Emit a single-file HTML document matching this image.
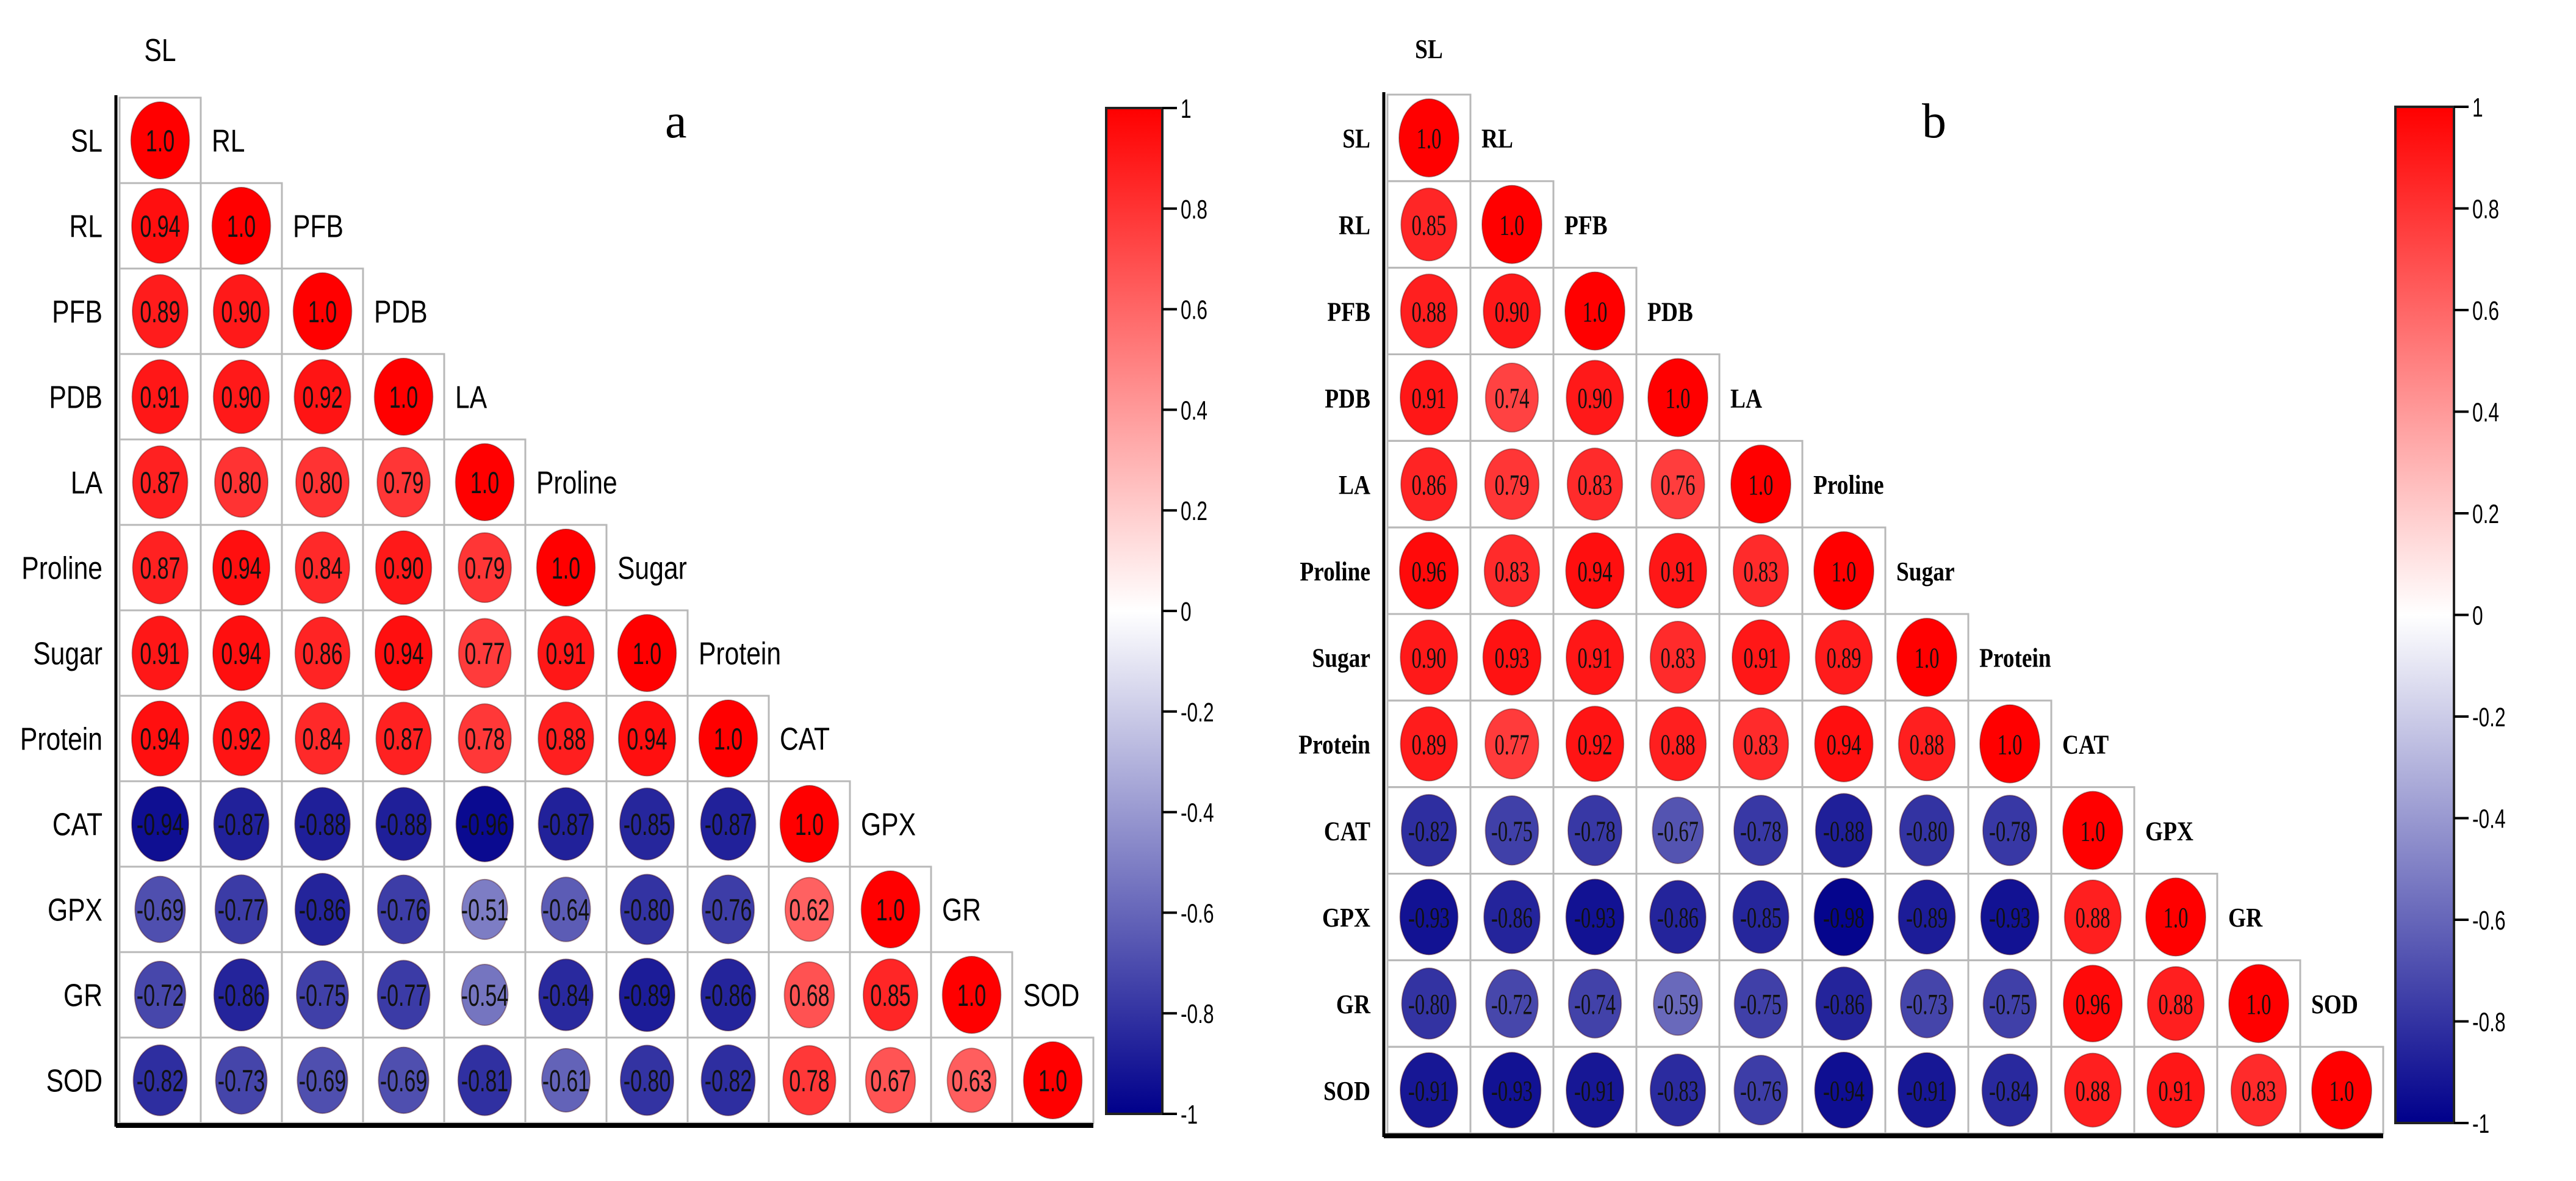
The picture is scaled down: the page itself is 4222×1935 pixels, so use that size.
<!DOCTYPE html>
<html><head><meta charset="utf-8"><style>
html,body{margin:0;padding:0;background:#fff}
svg{display:block}
</style></head><body>
<svg id="svg" width="4222" height="1935" viewBox="0 0 4222 1935" xmlns="http://www.w3.org/2000/svg"></svg>
<script>
const vars = ["SL","RL","PFB","PDB","LA","Proline","Sugar","Protein","CAT","GPX","GR","SOD"];
const corrA = [
[1.0],
[0.94,1.0],
[0.89,0.90,1.0],
[0.91,0.90,0.92,1.0],
[0.87,0.80,0.80,0.79,1.0],
[0.87,0.94,0.84,0.90,0.79,1.0],
[0.91,0.94,0.86,0.94,0.77,0.91,1.0],
[0.94,0.92,0.84,0.87,0.78,0.88,0.94,1.0],
[-0.94,-0.87,-0.88,-0.88,-0.96,-0.87,-0.85,-0.87,1.0],
[-0.69,-0.77,-0.86,-0.76,-0.51,-0.64,-0.80,-0.76,0.62,1.0],
[-0.72,-0.86,-0.75,-0.77,-0.54,-0.84,-0.89,-0.86,0.68,0.85,1.0],
[-0.82,-0.73,-0.69,-0.69,-0.81,-0.61,-0.80,-0.82,0.78,0.67,0.63,1.0]];
const corrB = [
[1.0],
[0.85,1.0],
[0.88,0.90,1.0],
[0.91,0.74,0.90,1.0],
[0.86,0.79,0.83,0.76,1.0],
[0.96,0.83,0.94,0.91,0.83,1.0],
[0.90,0.93,0.91,0.83,0.91,0.89,1.0],
[0.89,0.77,0.92,0.88,0.83,0.94,0.88,1.0],
[-0.82,-0.75,-0.78,-0.67,-0.78,-0.88,-0.80,-0.78,1.0],
[-0.93,-0.86,-0.93,-0.86,-0.85,-0.98,-0.89,-0.93,0.88,1.0],
[-0.80,-0.72,-0.74,-0.59,-0.75,-0.86,-0.73,-0.75,0.96,0.88,1.0],
[-0.91,-0.93,-0.91,-0.83,-0.76,-0.94,-0.91,-0.84,0.88,0.91,0.83,1.0]];
const cbTicks = [1,0.8,0.6,0.4,0.2,0,-0.2,-0.4,-0.6,-0.8,-1];

const NS="http://www.w3.org/2000/svg";
const svg=document.getElementById('svg');
function mk(tag,attrs,parent){const e=document.createElementNS(NS,tag);for(const k in attrs)e.setAttribute(k,attrs[k]);(parent||svg).appendChild(e);return e;}
function color(r){
  if(r>=0){const t=r;return `rgb(255,${Math.round(255*(1-t))},${Math.round(255*(1-t))})`;}
  const t=-r;return `rgb(${Math.round(255*(1-t))},${Math.round(255*(1-t))},${Math.round(255-(255-139)*t)})`;
}
function fmt(v){return v===1?"1.0":v.toFixed(2);}
function sx(x,k){return `translate(${x},0) scale(${k},1) translate(${-x},0)`;}

function panel(cfg){
  const g=mk('g',{});
  
  
  const n=vars.length, cw=(cfg.right-cfg.left)/n, ch=(cfg.bottom-cfg.top)/n;
  const xs=i=>cfg.left+i*cw, ys=i=>cfg.top+i*ch;
  const defs=mk('defs',{},g);
  const lg=mk('linearGradient',{id:cfg.id+'grad',x1:0,y1:0,x2:0,y2:1},defs);
  mk('stop',{offset:'0','stop-color':'#ff0000'},lg);
  mk('stop',{offset:'0.5','stop-color':'#ffffff'},lg);
  mk('stop',{offset:'1','stop-color':'#00008b'},lg);
  for(let i=0;i<n;i++){
    for(let j=0;j<=i;j++){
      const v=(cfg.data[i]||[])[j];
      const cell=mk('rect',{x:xs(j),y:ys(i),width:cw,height:ch,fill:'none',stroke:'#b8b8b8','stroke-width':3},g);
      
      
      if(v===undefined)continue;
      const a=Math.abs(v), s=0.55+0.45*a;
      const cx=xs(j)+cw/2, cy=ys(i)+ch/2;
      const el=mk('ellipse',{cx:cx,cy:cy,rx:cw*0.36*s,ry:ch*0.45*s,fill:color(v),stroke:'rgba(60,0,0,0.35)','stroke-width':2},g);
      
      
      const t=mk('text',{x:cx,y:cy+cfg.valSize*0.36,'text-anchor':'middle','font-family':cfg.font,'font-size':cfg.valSize,fill:'#111',
        transform:sx(cx,0.68)},g);
      t.textContent=fmt(v);
      
      
    }
    const rx=cfg.left-28;
    const rl=mk('text',{x:rx,y:ys(i)+ch/2+cfg.labSize*0.36,'text-anchor':'end','font-family':cfg.font,'font-weight':cfg.weight,'font-size':cfg.labSize,fill:'#000',transform:sx(rx,cfg.labScale)},g);
    rl.textContent=vars[i];
    
    
    const lx = i===0 ? xs(0)+cw/2 : xs(i)+18;
    const ly = i===0 ? cfg.top-60 : ys(i-1)+ch/2+cfg.labSize*0.36;
    const cl=mk('text',{x:lx,y:ly,'text-anchor':i===0?'middle':'start','font-family':cfg.font,'font-weight':cfg.weight,'font-size':cfg.labSize,fill:'#000',transform:sx(lx,cfg.labScale)},g);
    cl.textContent=vars[i];
    
    
  }
  const la=mk('line',{x1:cfg.left-6,y1:cfg.top-4,x2:cfg.left-6,y2:cfg.bottom+6,stroke:'#000','stroke-width':5},g);
  
  const ba=mk('line',{x1:cfg.left-6,y1:cfg.bottom+4,x2:cfg.right,y2:cfg.bottom+4,stroke:'#000','stroke-width':8},g);
  
  const pl=mk('text',{x:cfg.letterX,y:cfg.letterY,'font-family':'Liberation Serif, serif','font-size':80,fill:'#000'},g);
  pl.textContent=cfg.letter;
  const cb=mk('rect',{x:cfg.cbX,y:cfg.cbTop,width:cfg.cbW,height:cfg.cbBot-cfg.cbTop,fill:`url(#${cfg.id}grad)`,stroke:'#222','stroke-width':4},g);
  
  const cy=v=>cfg.cbTop+(1-v)/2*(cfg.cbBot-cfg.cbTop);
  cbTicks.forEach(v=>{
    const tk=mk('line',{x1:cfg.cbX+cfg.cbW,y1:cy(v),x2:cfg.cbX+cfg.cbW+24,y2:cy(v),stroke:'#000','stroke-width':4},g);
    
    const tx=cfg.cbX+cfg.cbW+30;
    const tl=mk('text',{x:tx,y:cy(v)+16,'font-family':'Liberation Sans, sans-serif','font-size':44,fill:'#000',transform:sx(tx,0.72)},g);
    tl.textContent=String(v);
    
  });
}
panel({name:'panel-a',id:'a',data:corrA,left:196,right:1792,top:160,bottom:1840,font:'Liberation Sans, sans-serif',weight:'normal',valSize:50,labSize:52,labScale:0.82,
  letter:'a',letterX:1090,letterY:225,cbX:1813,cbW:92,cbTop:177,cbBot:1825});
panel({name:'panel-b',id:'b',data:corrB,left:2274,right:3906,top:155,bottom:1857,font:'Liberation Serif, serif',weight:'bold',valSize:48,labSize:44,labScale:0.85,
  letter:'b',letterX:3150,letterY:225,cbX:3926,cbW:96,cbTop:175,cbBot:1840});
</script>
</body></html>
